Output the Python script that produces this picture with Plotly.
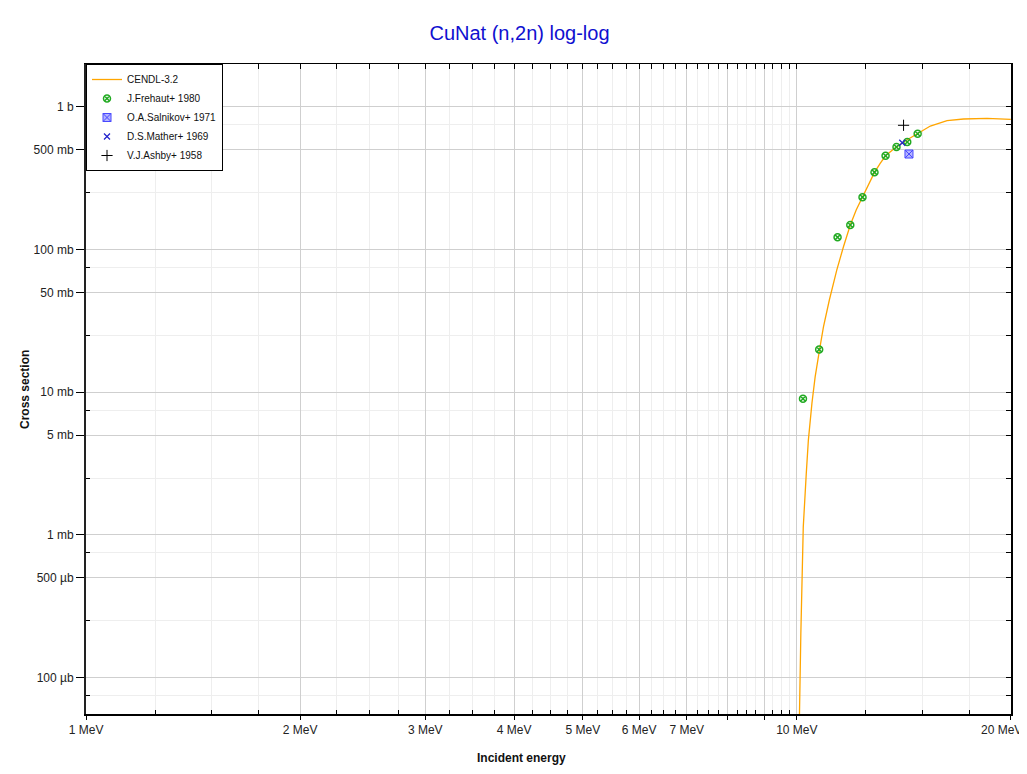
import math
import plotly.graph_objects as go

# ---------------- data ----------------
cendl_energy = [10.065, 10.085, 10.13, 10.17, 10.21, 10.31, 10.38, 10.50, 10.61, 10.76, 10.90,
                11.11, 11.38, 11.63, 11.89, 12.12, 12.37, 12.62, 12.86, 13.10, 13.33, 13.58,
                13.81, 14.28, 14.79, 15.41, 16.27, 17.16, 18.52, 19.97, 20.0]
cendl_xs = [1e-6, 5.5e-5, 2.05e-4, 5.1e-4, 1.14e-3, 2.70e-3, 4.62e-3, 8.35e-3, 0.0128, 0.0197, 0.0287,
            0.0442, 0.0716, 0.1043, 0.148, 0.1884, 0.232, 0.2866, 0.346, 0.400, 0.452, 0.488,
            0.522, 0.583, 0.649, 0.730, 0.796, 0.818, 0.826, 0.813, 0.813]

frehaut_energy = [10.20, 10.75, 11.41, 11.89, 12.37, 12.86, 13.33, 13.81, 14.30, 14.79]
frehaut_xs = [0.0090, 0.0199, 0.1214, 0.148, 0.232, 0.346, 0.452, 0.520, 0.564, 0.645]

salnikov_energy = [14.38]
salnikov_xs = [0.465]

mather_energy = [14.07]
mather_xs = [0.558]

ashby_energy = [14.13]
ashby_xs = [0.739]

x_major_vals = [1, 2, 3, 4, 5, 6, 7, 8, 9, 10, 20]
x_major_text = ["1 MeV", "2 MeV", "3 MeV", "4 MeV", "5 MeV", "6 MeV", "7 MeV", "", "", "10 MeV", ""]
x_last_label = "20 MeV"
x_minor_vals = [1.25, 1.5, 1.75, 2.25, 2.5, 2.75, 3.25, 3.5, 3.75, 4.25, 4.5, 4.75,
                5.25, 5.5, 5.75, 6.25, 6.5, 6.75, 7.25, 7.5, 7.75, 8.25, 8.5, 8.75,
                9.25, 9.5, 9.75, 12.5, 15, 17.5]

y_major_vals = [1, 0.5, 0.1, 0.05, 0.01, 0.005, 0.001, 0.0005, 0.0001]
y_major_text = ["1 b", "500 mb", "100 mb", "50 mb", "10 mb", "5 mb", "1 mb", "500 µb", "100 µb"]
y_minor_vals = [0.75, 0.25, 0.075, 0.025, 0.0075, 0.0025, 0.00075, 0.00025, 0.000075]

x_range = [-0.0003, math.log10(20) + 0.0003]
y_range = [math.log10(5.58e-5), math.log10(1.985)]

FONT = "Liberation Sans, Arial, sans-serif"

# the page has an 8px body margin, so the figure is offset by 8px
W, H = 1019, 766

fig = go.Figure()

fig.add_trace(go.Scatter(x=cendl_energy, y=cendl_xs, mode="lines", name="CENDL-3.2",
                         line=dict(color="#ffa500", width=1.3)))
fig.add_trace(go.Scatter(x=frehaut_energy, y=frehaut_xs, mode="markers", name="J.Frehaut+ 1980",
                         marker=dict(symbol="circle-x-open", size=7, color="#22aa22",
                                     line=dict(width=1.5, color="#22aa22"))))
fig.add_trace(go.Scatter(x=salnikov_energy, y=salnikov_xs, mode="markers", name="O.A.Salnikov+ 1971",
                         marker=dict(symbol="square-x", size=8, color="#b4b4ff",
                                     line=dict(width=1, color="#4848ff"))))
fig.add_trace(go.Scatter(x=mather_energy, y=mather_xs, mode="markers", name="D.S.Mather+ 1969",
                         marker=dict(symbol="x-thin-open", size=6, color="#2020cc",
                                     line=dict(width=1.2, color="#2020cc"))))
fig.add_trace(go.Scatter(x=ashby_energy, y=ashby_xs, mode="markers", name="V.J.Ashby+ 1958",
                         marker=dict(symbol="cross-thin-open", size=8, color="#000000",
                                     line=dict(width=1, color="#000000"))))
# helper trace for the mirrored (top / right) axes
fig.add_trace(go.Scatter(x=[], y=[], xaxis="x2", yaxis="y2", showlegend=False, hoverinfo="skip"))

major_grid = "#cfcfcf"
minor_grid = "#eeeeee"

fig.update_layout(
    width=W, height=H,
    margin=dict(l=78, r=16, t=56, b=60, autoexpand=False),
    paper_bgcolor="white", plot_bgcolor="white",
    font=dict(family=FONT, size=12, color="#222222"),
    title=dict(text="CuNat (n,2n) log-log", font=dict(family=FONT, size=20, color="#1010d0"),
               x=511.5 / W, xref="container", xanchor="center",
               y=1 - 25 / H, yref="container", yanchor="middle"),
    showlegend=True,
    legend=dict(x=0, y=1, xanchor="left", yanchor="top", bgcolor="white",
                bordercolor="black", borderwidth=1, font=dict(family=FONT, size=10, color="#111111"),
                tracegroupgap=0),
    xaxis=dict(type="log", range=x_range, tickvals=x_major_vals, ticktext=x_major_text,
               ticks="outside", ticklen=4, tickcolor="black", tickwidth=1, automargin=False,
               showline=True, linecolor="black", linewidth=2, zeroline=False,
               showgrid=True, gridcolor=major_grid, gridwidth=1,
               tickfont=dict(family=FONT, size=12, color="#222222"),
               minor=dict(tickvals=x_minor_vals, ticks="inside", ticklen=4, tickcolor="black",
                          showgrid=True, gridcolor=minor_grid, gridwidth=1)),
    yaxis=dict(type="log", range=y_range, tickvals=y_major_vals, ticktext=y_major_text,
               ticks="outside", ticklen=8, tickcolor="black", tickwidth=1, automargin=False,
               showline=True, linecolor="#222222", linewidth=2, zeroline=False,
               showgrid=True, gridcolor=major_grid, gridwidth=1,
               tickfont=dict(family=FONT, size=12, color="#222222"),
               minor=dict(tickvals=y_minor_vals, ticks="inside", ticklen=4, tickcolor="black",
                          showgrid=True, gridcolor=minor_grid, gridwidth=1)),
    xaxis2=dict(type="log", range=x_range, overlaying="x", side="top", anchor="y2",
                tickvals=x_major_vals, ticks="inside", ticklen=5, tickcolor="black",
                showticklabels=False, showgrid=False, zeroline=False, automargin=False,
                showline=True, linecolor="black", linewidth=1,
                minor=dict(tickvals=x_minor_vals, ticks="inside", ticklen=5, tickcolor="black",
                           showgrid=False)),
    yaxis2=dict(type="log", range=y_range, overlaying="y", side="right", anchor="x2",
                tickvals=y_major_vals, ticks="inside", ticklen=5, tickcolor="black",
                showticklabels=False, showgrid=False, zeroline=False, automargin=False,
                showline=True, linecolor="black", linewidth=1.5,
                minor=dict(tickvals=y_minor_vals, ticks="inside", ticklen=5, tickcolor="black",
                           showgrid=False)),
    annotations=[
        dict(text=x_last_label, xref="x", yref="paper", x=math.log10(x_major_vals[-1]), y=0,
             xanchor="right", yanchor="top", xshift=13, yshift=-7,
             showarrow=False, font=dict(family=FONT, size=12, color="#222222")),
        dict(text="<b>Incident energy</b>", xref="paper", yref="paper",
             x=(521 - 86) / 925, y=(714 - 758) / 650, xanchor="center", yanchor="middle",
             showarrow=False, font=dict(family=FONT, size=12, color="#111111")),
        dict(text="<b>Cross section</b>", xref="paper", yref="paper", textangle=-90,
             x=(25 - 86) / 925, y=0.5, xanchor="center", yanchor="middle",
             showarrow=False, font=dict(family=FONT, size=12, color="#111111")),
    ],
)

fig.write_html("out.html")
